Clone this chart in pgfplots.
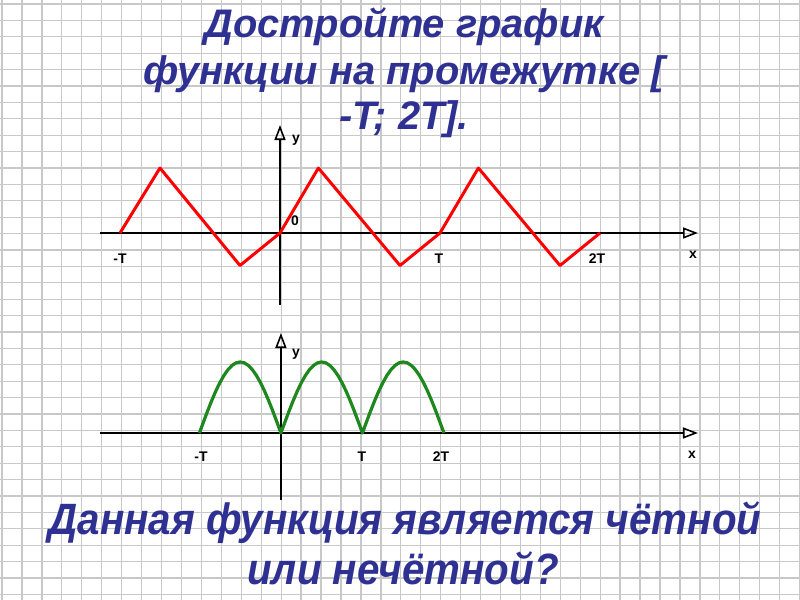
\documentclass[border=0pt]{standalone}
\usepackage{fontspec}
\setmainfont{Liberation Sans}
\newfontfamily\qfont[FakeStretch=0.92]{Liberation Sans}
\usepackage{pgfplots}
\pgfplotsset{compat=1.18}
\usetikzlibrary{arrows.meta}
\definecolor{ttl}{RGB}{46,49,146}
\definecolor{gridc}{RGB}{200,200,200}
\definecolor{grn}{RGB}{30,135,30}
\begin{document}
\begin{tikzpicture}
\useasboundingbox (0,0) rectangle (800bp,600bp);
\fill[white] (0,0) rectangle (800bp,600bp);
% background grid and texts (pixel coordinates)
\begin{axis}[at={(0,0)}, anchor=south west, scale only axis,
  width=800bp, height=600bp, xmin=0, xmax=800, ymin=0, ymax=600,
  y dir=reverse, xtick={2,21.94,...,800}, ytick={4,20.4,...,600},
  grid=major, major grid style={gridc, line width=1.3bp},
  xticklabels={}, yticklabels={}, major tick length=0pt,
  axis line style={draw=none}, clip=false]
\node[ttl, font=\bfseries\itshape\fontsize{40}{46}\selectfont] at (axis cs:404,27) {Достройте график};
\node[ttl, font=\bfseries\itshape\fontsize{40}{46}\selectfont] at (axis cs:404,74) {функции на промежутке [};
\node[ttl, font=\bfseries\itshape\fontsize{40}{46}\selectfont] at (axis cs:404,119) {-T; 2T].};
\node[ttl, font=\qfont\bfseries\itshape\fontsize{44}{50}\selectfont] at (axis cs:405,523) {Данная функция является чётной};
\node[ttl, font=\qfont\bfseries\itshape\fontsize{44}{50}\selectfont] at (axis cs:403,568) {или нечётной?};
% axis labels
\begin{scope}[every node/.style={font=\bfseries\fontsize{14}{16}\selectfont, black}]
\node at (axis cs:296,140) {y};
\node at (axis cs:295,221) {0};
\node at (axis cs:120,259) {-T};
\node at (axis cs:439,259) {T};
\node at (axis cs:597,259) {2T};
\node at (axis cs:693,255) {x};
\node at (axis cs:296,354) {y};
\node at (axis cs:201,457) {-T};
\node at (axis cs:362,457) {T};
\node at (axis cs:441,457) {2T};
\node at (axis cs:692,455) {x};
\end{scope}
\end{axis}
% top plot
\begin{axis}[at={(100bp,295bp)}, anchor=south west, scale only axis,
  x=160bp, y=32.5bp, xmin=-1.125, xmax=2.6125, ymin=-2.215, ymax=3.323,
  axis lines=middle, xtick=\empty, ytick=\empty,
  axis line style={line width=2bp, black, -{Triangle[open, length=15bp, width=11bp, line width=1.6bp]}},
  clip=false]
\addplot[red, line width=3bp, line join=round] coordinates {
(-1,0) (-0.75,2) (-0.25,-1) (0,0) (0.24,2) (0.75,-1) (1,0) (1.24,2) (1.75,-1) (2,0)};
\end{axis}
% bottom plot
\begin{axis}[at={(100bp,100bp)}, anchor=south west, scale only axis,
  x=81.5bp, y=71bp, xmin=-2.22, xmax=5.117, ymin=-0.944, ymax=1.408,
  axis lines=middle, xtick=\empty, ytick=\empty,
  axis line style={line width=2bp, black, -{Triangle[open, length=15bp, width=11bp, line width=1.6bp]}},
  clip=false]
\addplot[grn, line width=3.2bp, line join=round] coordinates {
(-1,0) (-0.95,0.156) (-0.9,0.309) (-0.85,0.454) (-0.8,0.588) (-0.75,0.707) (-0.7,0.809) (-0.65,0.891) (-0.6,0.951) (-0.55,0.988) (-0.5,1)
(-0.45,0.988) (-0.4,0.951) (-0.35,0.891) (-0.3,0.809) (-0.25,0.707) (-0.2,0.588) (-0.15,0.454) (-0.1,0.309) (-0.05,0.156) (0,0)
(0.05,0.156) (0.1,0.309) (0.15,0.454) (0.2,0.588) (0.25,0.707) (0.3,0.809) (0.35,0.891) (0.4,0.951) (0.45,0.988) (0.5,1)
(0.55,0.988) (0.6,0.951) (0.65,0.891) (0.7,0.809) (0.75,0.707) (0.8,0.588) (0.85,0.454) (0.9,0.309) (0.95,0.156) (1,0)
(1.05,0.156) (1.1,0.309) (1.15,0.454) (1.2,0.588) (1.25,0.707) (1.3,0.809) (1.35,0.891) (1.4,0.951) (1.45,0.988) (1.5,1)
(1.55,0.988) (1.6,0.951) (1.65,0.891) (1.7,0.809) (1.75,0.707) (1.8,0.588) (1.85,0.454) (1.9,0.309) (1.95,0.156) (2,0)};
\end{axis}
\end{tikzpicture}
\end{document}
